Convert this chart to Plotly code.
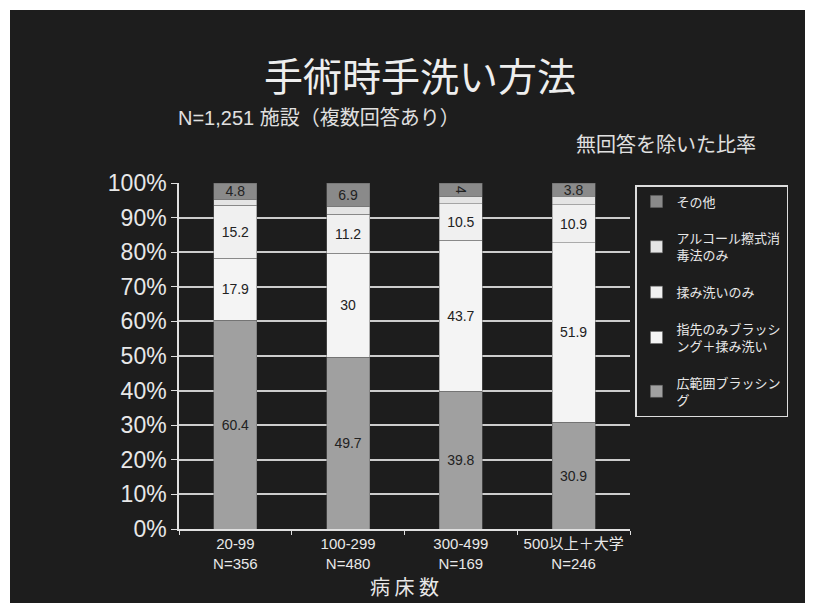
import plotly.graph_objects as go

categories = ["20-99<br>N=356", "100-299<br>N=480", "300-499<br>N=169", "500以上＋大学<br>N=246"]
series_names = [
    "広範囲ブラッシン<br>グ",
    "指先のみブラッシ<br>ング＋揉み洗い",
    "揉み洗いのみ",
    "アルコール擦式消<br>毒法のみ",
    "その他",
]
wide_brush = [60.4, 49.7, 39.8, 30.9]
fingertip_brush = [17.9, 30.0, 43.7, 51.9]
rub_only = [15.2, 11.2, 10.5, 10.9]
alcohol_only = [1.7, 2.2, 2.0, 2.5]
other = [4.8, 6.9, 4.0, 3.8]
y_ticks = [0, 10, 20, 30, 40, 50, 60, 70, 80, 90, 100]
y_tick_labels = [f"{v}%" for v in y_ticks]

values = [wide_brush, fingertip_brush, rub_only, alcohol_only, other]
colors = ["#a0a0a0", "#f4f4f4", "#f0f0f0", "#e4e4e4", "#8a8a8a"]
show_text = [True, True, True, False, True]
ranks = [5, 4, 3, 2, 1]

FONT = "Liberation Sans, Arial, Noto Sans CJK JP"
JP = "Noto Sans CJK JP"

# page is rendered with an 8px body margin
OFF = 8
W, H = 813 - OFF, 606 - OFF
PX_L, PX_R, PX_T, PX_B = 179, 630, 183, 529  # plot area in page pixels
L = PX_L - OFF
R = W - (PX_R - OFF)
T = PX_T - OFF
B = H - (PX_B - OFF)
pw, ph = PX_R - PX_L, PX_B - PX_T


def px_x(px):
    return (px - PX_L) / pw


def px_y(py):
    return (PX_B - py) / ph


fig = go.Figure()
for i, (name, vals, col, st, rk) in enumerate(zip(series_names, values, colors, show_text, ranks)):
    fig.add_trace(go.Bar(
        x=categories, y=vals, name=name,
        marker=dict(color=col, line=dict(color="#666666", width=0.5)),
        text=[f"{v:g}" for v in vals] if st else None,
        textposition="inside" if st else "none",
        insidetextanchor="middle",
        constraintext="none",
        textfont=dict(size=14, color="#222222", family=FONT),
        legendgroup=f"g{i}",
        legendrank=rk,
        width=0.38,
    ))

fig.update_layout(
    width=W, height=H,
    margin=dict(l=L, r=R, t=T, b=B),
    barmode="stack",
    paper_bgcolor="white",
    plot_bgcolor="rgba(0,0,0,0)",
    font=dict(family=FONT, color="#e8e8e8"),
    title=dict(
        text="手術時手洗い方法",
        x=px_x(420), xref="paper", xanchor="center",
        y=1 - (77 - OFF) / H, yanchor="middle",
        font=dict(size=39, color="#eeeeee", family=JP),
    ),
    legend=dict(
        x=px_x(635), y=px_y(185), xanchor="left", yanchor="top",
        traceorder="grouped",
        tracegroupgap=17,
        bordercolor="#dddddd", borderwidth=1.5,
        bgcolor="rgba(0,0,0,0)",
        font=dict(size=13, color="#e8e8e8", family=FONT),
        itemwidth=30,
    ),
    shapes=[dict(
        type="rect", xref="paper", yref="paper", layer="below",
        x0=px_x(10), x1=px_x(813), y0=px_y(603), y1=px_y(10),
        fillcolor="#1d1d1d", line=dict(width=0),
    )],
    annotations=[
        dict(text="N=1,251 施設（複数回答あり）", xref="paper", yref="paper",
             x=px_x(176), y=px_y(118), xanchor="left", yanchor="middle",
             showarrow=False, font=dict(size=20, color="#e0e0e0", family=FONT)),
        dict(text="無回答を除いた比率", xref="paper", yref="paper",
             x=px_x(758), y=px_y(143), xanchor="right", yanchor="middle",
             showarrow=False, font=dict(size=20, color="#e0e0e0", family=JP)),
    ],
)

fig.update_yaxes(
    range=[0, 100],
    tickvals=y_ticks, ticktext=y_tick_labels,
    tickfont=dict(size=23, color="#e8e8e8", family=FONT),
    showgrid=True, gridcolor="#cccccc", gridwidth=2,
    showline=True, linecolor="#e0e0e0", linewidth=1.5,
    ticks="outside", ticklen=6, tickcolor="#e0e0e0",
    zeroline=False,
)
fig.update_xaxes(
    tickfont=dict(size=15, color="#e8e8e8", family=FONT),
    showline=True, linecolor="#e0e0e0", linewidth=2,
    ticks="outside", tickson="boundaries", ticklen=4, tickcolor="#e0e0e0",
    title=dict(text="病 床 数", font=dict(size=20, color="#e8e8e8", family=JP), standoff=0),
)

fig.write_html("out.html")
